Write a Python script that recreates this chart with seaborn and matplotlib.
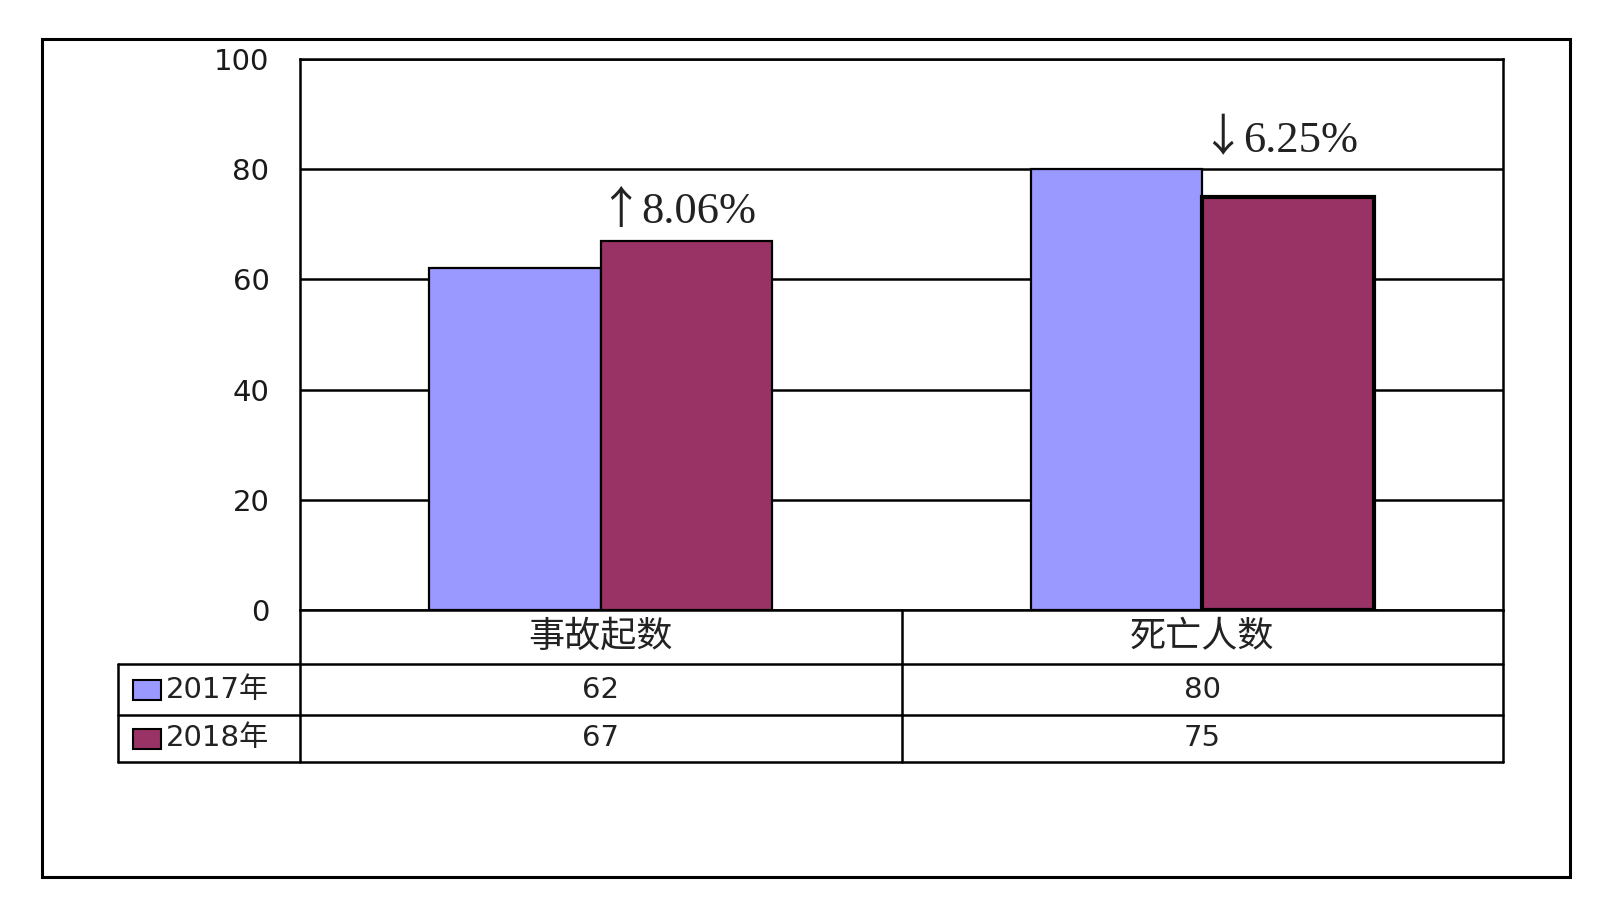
import pandas as pd
import seaborn as sns
import matplotlib.pyplot as plt
from matplotlib.lines import Line2D
from matplotlib.patches import Rectangle
from matplotlib.transforms import blended_transform_factory

categories = ['事故起数', '死亡人数']
years = ['2017年', '2018年']
values_2017 = [62, 80]
values_2018 = [67, 75]
changes = ['↑8.06%', '↓6.25%']
palette = ['#9999FF', '#993366']
yticks = [0, 20, 40, 60, 80, 100]

W, H = 1600, 901


def fx(px):
    return px / W


def fy(py):
    return 1 - py / H


sns.set_style('white')
plt.rcParams['font.family'] = ['DejaVu Sans', 'Noto Sans CJK SC']

df = pd.DataFrame({
    'category': categories * 2,
    'year': [years[0]] * len(categories) + [years[1]] * len(categories),
    'value': values_2017 + values_2018,
})

fig = plt.figure(figsize=(16, 9.01), dpi=100)
fig.patch.set_facecolor('white')

ax = fig.add_axes([fx(300), fy(610), fx(1503) - fx(300), fy(59) - fy(610)])
sns.barplot(data=df, x='category', y='value', hue='year', palette=palette,
            width=0.57, saturation=1, edgecolor='black', linewidth=1.6,
            errorbar=None, legend=False, ax=ax, zorder=3)
# the last bar has a heavier outline in the original
ax.patches[-1].set_linewidth(3)
ax.set_xlim(-0.5, len(categories) - 0.5)
ax.set_ylim(0, 100)
ax.set_yticks(yticks)
ax.yaxis.grid(True, color='black', linewidth=1.8)
ax.set_axisbelow(True)
ax.tick_params(axis='y', length=0, pad=22, labelsize=21, labelcolor='#1a1a1a')
ax.set_xticks([])
ax.set_xlabel('')
ax.set_ylabel('')
for s in ax.spines.values():
    s.set_color('black')
    s.set_linewidth(1.8)

# change labels above each group: tall arrow + serif percentage
for i, txt in enumerate(changes):
    top = max(values_2017[i], values_2018[i])
    ax.annotate(txt[0], (i + 0.012, top + 3.2), xytext=(9, 0), textcoords='offset points',
                fontsize=32, family=['Noto Sans CJK SC', 'DejaVu Sans'],
                ha='center', va='baseline', color='#222222')
    ax.annotate(txt[1:], (i + 0.012, top + 3.2), xytext=(24, 0), textcoords='offset points',
                fontsize=32, family=['Liberation Serif', 'DejaVu Serif'],
                ha='left', va='baseline', color='#222222')

# data table under the axes
tx = blended_transform_factory(ax.transData, fig.transFigure)
lw = 1.8
rows = [610, 664, 715, 762]
for y in rows[1:]:
    fig.add_artist(Line2D([fx(118), fx(1503)], [fy(y), fy(y)], color='black', lw=lw))
fig.add_artist(Line2D([fx(118), fx(118)], [fy(664), fy(762)], color='black', lw=lw))
fig.add_artist(Line2D([fx(300), fx(300)], [fy(610), fy(762)], color='black', lw=lw))
fig.add_artist(Line2D([fx(1503), fx(1503)], [fy(610), fy(762)], color='black', lw=lw))
for i in range(len(categories) - 1):
    fig.add_artist(Line2D([i + 0.5, i + 0.5], [fy(610), fy(762)], color='black',
                          lw=lw, transform=tx))

for i, cat in enumerate(categories):
    fig.text(i, fy(637), cat, transform=tx, fontsize=26, ha='center', va='center',
             family=['Noto Sans CJK SC', 'DejaVu Sans'], color='#222222')
    fig.text(i, fy(689.5), str(values_2017[i]), transform=tx, fontsize=21,
             ha='center', va='center', color='#222222')
    fig.text(i, fy(738.5), str(values_2018[i]), transform=tx, fontsize=21,
             ha='center', va='center', color='#222222')

for label, color, yc in zip(years, palette, [689.5, 738.5]):
    fig.add_artist(Rectangle((fx(133), fy(yc + 10)), fx(28), 20 / H, facecolor=color,
                             edgecolor='black', lw=1.5, transform=fig.transFigure))
    fig.text(fx(166), fy(yc), label, fontsize=21, ha='left', va='center', color='#222222')

# outer frame
fig.add_artist(Rectangle((fx(42), fy(877)), fx(1570 - 42), (877 - 39) / H, fill=False,
                         edgecolor='black', lw=2.2, transform=fig.transFigure))

fig.savefig('out.png', dpi=100)
